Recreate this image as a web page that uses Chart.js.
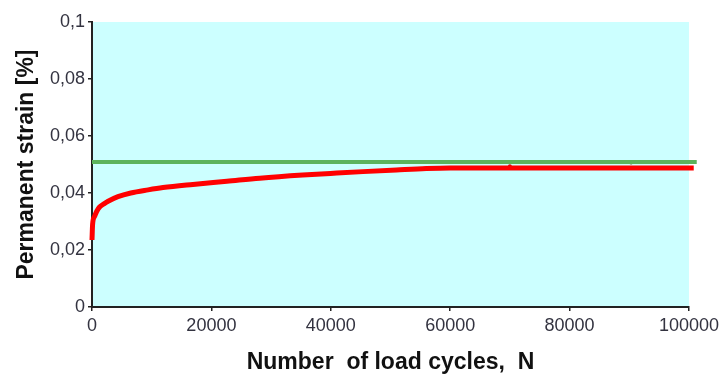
<!DOCTYPE html>
<html>
<head>
<meta charset="utf-8">
<script src="https://cdn.jsdelivr.net/npm/chart.js@4/dist/chart.umd.min.js"></script>
<style>
  html, body { margin: 0; padding: 0; background: #fff; }
  #wrap { width: 723px; height: 378px; }
</style>
</head>
<body>
<div id="wrap"><canvas id="chart" width="723" height="378"></canvas></div>
<script>
// load cycles N and permanent strain [%]
const cycles = [0, 100, 430, 800, 1270, 2000, 2700, 4350, 6500, 9400, 11900, 16900, 22600, 28100, 35300, 41000, 45400, 51000, 56000, 60000, 70000, 80000, 90000, 100800]
const strain = [0.0235, 0.029, 0.0318, 0.0336, 0.0351, 0.0362, 0.0371, 0.0387, 0.0400, 0.0411, 0.0419, 0.043, 0.0441, 0.0452, 0.0463, 0.047, 0.0475, 0.0481, 0.0486, 0.0488, 0.0488, 0.0488, 0.0488, 0.0488]

// horizontal limit line
const limitCycles = [0, 101300]
const limitStrain = [0.0509, 0.0509]

// a couple of stray dark markers near the end
const markCycles = [70000, 90300]
const markStrain = [0.0494, 0.0507]

const xTicks = [0, 20000, 40000, 60000, 80000, 100000]
const yTicks = [0, 0.02, 0.04, 0.06, 0.08, 0.1]

const toPoints = (xs, ys) => xs.map((x, i) => ({ x, y: ys[i] }))

const plotBackground = {
  id: 'plotBackground',
  beforeDraw(chart) {
    const { ctx, chartArea: a } = chart
    ctx.save()
    ctx.fillStyle = '#ccffff'
    ctx.fillRect(a.left, a.top, a.right - a.left, a.bottom - a.top)
    ctx.restore()
  },
}

const tickFont = { family: '"Liberation Sans", Arial, sans-serif', size: 18 }
const titleFont = { family: '"Liberation Sans", Arial, sans-serif', size: 23, weight: 'bold' }

new Chart(document.getElementById('chart'), {
  type: 'scatter',
  data: {
    datasets: [
      {
        label: 'limit',
        data: toPoints(limitCycles, limitStrain),
        showLine: true,
        borderColor: '#5cb35c',
        borderWidth: 4,
        pointRadius: 0,
        clip: false,
      },
      {
        label: 'strain',
        data: toPoints(cycles, strain),
        showLine: true,
        borderColor: '#ff0000',
        borderWidth: 5,
        pointRadius: 0,
        cubicInterpolationMode: 'monotone',
        clip: false,
      },
      {
        label: 'marks',
        data: toPoints(markCycles, markStrain),
        pointRadius: 2,
        pointBackgroundColor: ['#cc1010', '#8a3a1a'],
        pointBorderWidth: 0,
      },
    ],
  },
  options: {
    responsive: false,
    animation: false,
    layout: { padding: { left: 0, right: 34, top: 22, bottom: 0 } },
    scales: {
      x: {
        type: 'linear',
        min: 0,
        max: 100000,
        afterBuildTicks: (scale) => { scale.ticks = xTicks.map((v) => ({ value: v })) },
        afterFit: (scale) => { scale.height = 71 },
        ticks: {
          font: tickFont,
          color: '#333340',
          padding: 4,
          maxRotation: 0,
          callback: (v) => String(v),
        },
        grid: { drawOnChartArea: false, tickLength: 4, color: '#222', lineWidth: 1.5 },
        border: { color: '#222', width: 2 },
        title: {
          display: true,
          text: 'Number  of load cycles,  N',
          font: titleFont,
          color: '#111',
          padding: { top: 0, bottom: 2 },
        },
      },
      y: {
        type: 'linear',
        min: 0,
        max: 0.1,
        afterBuildTicks: (scale) => { scale.ticks = yTicks.map((v) => ({ value: v })) },
        afterFit: (scale) => { scale.width = 92 },
        ticks: {
          font: tickFont,
          color: '#333340',
          padding: 3,
          callback: (v) => String(+v.toFixed(2)).replace('.', ','),
        },
        grid: { drawOnChartArea: false, tickLength: 4, color: '#222', lineWidth: 1.5 },
        border: { color: '#222', width: 2 },
        title: {
          display: true,
          text: 'Permanent strain [%]',
          font: titleFont,
          color: '#111',
          padding: { top: 13, bottom: 0 },
        },
      },
    },
    plugins: {
      legend: { display: false },
      tooltip: { enabled: false },
    },
  },
  plugins: [plotBackground],
})
</script>
</body>
</html>
